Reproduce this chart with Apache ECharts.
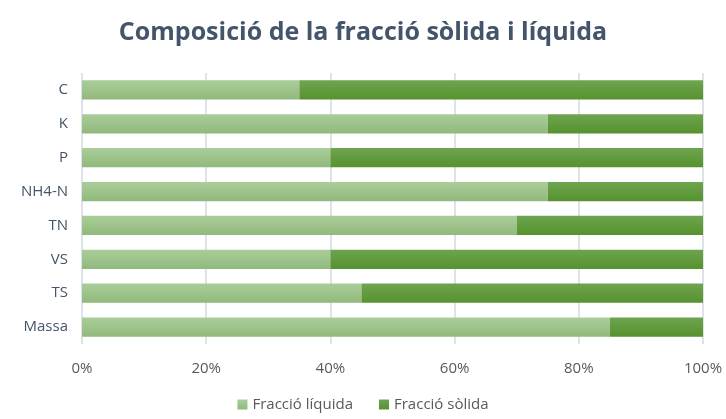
<!DOCTYPE html>
<html>
<head>
<meta charset="utf-8">
<script src="https://cdn.jsdelivr.net/npm/echarts@6/dist/echarts.min.js"></script>
<style>
    html, body { margin: 0; padding: 0; background: #fff; }
    #chart { width: 726px; height: 419px; }
</style>
</head>
<body>
<div id="chart"></div>
<script>
var categories = ['Massa', 'TS', 'VS', 'TN', 'NH4-N', 'P', 'K', 'C'];
var liquida = [85, 45, 40, 70, 75, 40, 75, 35];
var solida = [15, 55, 60, 30, 25, 60, 25, 65];
var xTicks = [0, 20, 40, 60, 80, 100];

(function(){
    var chart = echarts.init(document.getElementById('chart'));
    var font = 'Open Sans';
    var option = {
        title: {
            text: 'Composició de la fracció sòlida i líquida',
            left: 'center',
            top: 15,
            textStyle: {
                color: '#44546a',
                fontFamily: font,
                fontWeight: 'bold',
                fontSize: 25
            }
        },
        legend: {
            bottom: 2,
            left: 'center',
            itemWidth: 10,
            itemHeight: 10,
            itemGap: 26,
            icon: 'rect',
            data: ['Fracció líquida', 'Fracció sòlida'],
            textStyle: { color: '#595959', fontFamily: font, fontSize: 15 }
        },
        grid: { left: 82, right: 23, top: 73, bottom: 75 },
        xAxis: {
            type: 'value',
            min: 0,
            max: 100,
            interval: 20,
            axisLine: { show: false },
            axisTick: { show: false },
            axisLabel: {
                color: '#595959',
                fontFamily: font,
                fontSize: 15,
                margin: 17,
                formatter: function (v) { return xTicks.indexOf(v) >= 0 ? v + '%' : ''; }
            },
            splitLine: { lineStyle: { color: '#dfe2e8', width: 2 } }
        },
        yAxis: {
            type: 'category',
            data: categories,
            axisLine: { show: false },
            axisTick: { show: false },
            axisLabel: { color: '#44546a', fontFamily: font, fontSize: 15, margin: 14 }
        },
        series: [
            {
                name: 'Fracció líquida',
                type: 'bar',
                stack: 'total',
                barWidth: '57%',
                data: liquida,
                itemStyle: {
                    color: new echarts.graphic.LinearGradient(0, 0, 0, 1, [
                        { offset: 0, color: '#aacd99' },
                        { offset: 1, color: '#91b97c' }
                    ])
                }
            },
            {
                name: 'Fracció sòlida',
                type: 'bar',
                stack: 'total',
                data: solida,
                itemStyle: {
                    color: new echarts.graphic.LinearGradient(0, 0, 0, 1, [
                        { offset: 0, color: '#6ea44f' },
                        { offset: 1, color: '#56922e' }
                    ])
                }
            }
        ]
    };
    chart.setOption(option);
})();
</script>
</body>
</html>
